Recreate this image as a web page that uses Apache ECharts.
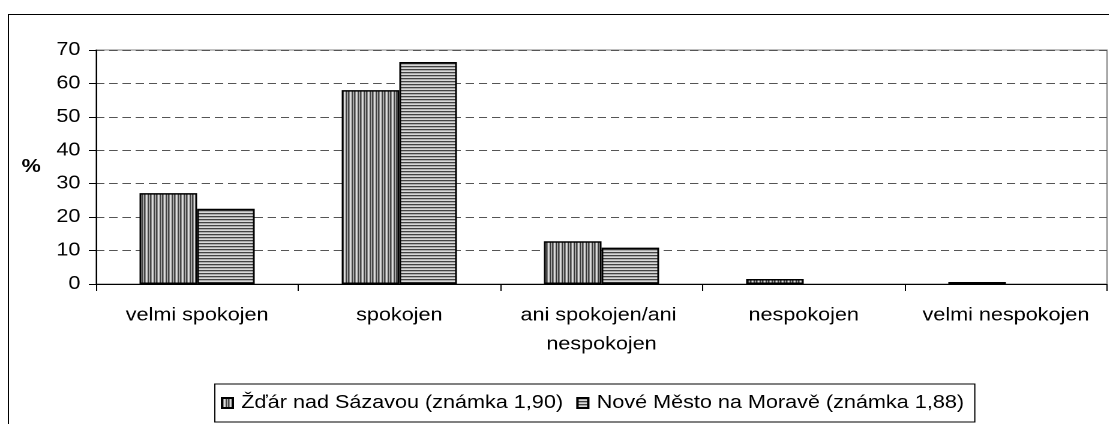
<!DOCTYPE html>
<html>
<head>
<meta charset="utf-8">
<script src="https://cdn.jsdelivr.net/npm/echarts@6/dist/echarts.min.js"></script>
<style>
html,body{margin:0;padding:0;background:#fff;overflow:hidden;}
#c{width:924px;height:424px;transform:scaleX(1.2);transform-origin:0 0;}
</style>
</head>
<body>
<div id="c"></div>
<script>
const categories = ['velmi spokojen', 'spokojen', 'ani spokojen/ani nespokojen', 'nespokojen', 'velmi nespokojen'];
const seriesNames = ['Žďár nad Sázavou (známka 1,90)', 'Nové Město na Moravě (známka 1,88)'];
const zdarValues = [27.2, 58.0, 12.8, 1.5, 0.6];
const nmnmValues = [22.5, 66.4, 10.9, 0, 0];
const yTicks = { min: 0, max: 70, interval: 10 };

function stripePattern(vertical) {
  const n = vertical ? 5 : 3;
  const cols = vertical ? ['#111111', '#b0b0b0', '#ffffff', '#111111', '#d8d8d8']
                        : ['#111111', '#b8b8b8', '#ffffff'];
  const c = document.createElement('canvas');
  c.width = n; c.height = n;
  const g = c.getContext('2d');
  for (let i = 0; i < n; i++) {
    g.fillStyle = cols[i];
    if (vertical) g.fillRect(i, 0, 1, n); else g.fillRect(0, i, n, 1);
  }
  return { image: c, repeat: 'repeat' };
}

// zero values draw no visible mark (as in the source chart)
function barData(values) {
  return values.map(v => v === 0 ? { value: v, itemStyle: { borderWidth: 0, opacity: 0 } } : v);
}

const chart = echarts.init(document.getElementById('c'), null, { renderer: 'canvas', devicePixelRatio: 2 });
const font = 'Liberation Sans, Arial, sans-serif';
chart.setOption({
  animation: false,
  textStyle: { fontFamily: font },
  graphic: [{
    type: 'rect', silent: true, z: -10,
    shape: { x: 7, y: 14.5, width: 1000, height: 420 },
    style: { fill: 'none', stroke: '#000', lineWidth: 1 }
  }],
  grid: {
    left: 80, right: 1.5, top: 50, bottom: 140,
    show: true, borderColor: '#808080', borderWidth: 1, backgroundColor: 'transparent'
  },
  legend: {
    left: 179, top: 384,
    orient: 'horizontal',
    icon: 'rect',
    itemWidth: 9, itemHeight: 10, itemGap: 11,
    padding: [10, 9, 10, 5],
    borderColor: '#000', borderWidth: 1,
    textStyle: { fontFamily: font, fontSize: 18, color: '#000', padding: [0, 0, 0, 2] },
    data: seriesNames
  },
  xAxis: {
    type: 'category',
    data: categories,
    axisLine: { lineStyle: { color: '#000', width: 1 } },
    axisTick: { show: true, length: 7, lineStyle: { color: '#000' } },
    axisLabel: {
      interval: 0, margin: 17, fontSize: 18, color: '#000', fontFamily: font,
      width: 160, overflow: 'break', lineHeight: 29, align: 'center'
    }
  },
  yAxis: {
    type: 'value',
    min: yTicks.min, max: yTicks.max, interval: yTicks.interval,
    name: '%', nameLocation: 'middle', nameRotate: 0, nameGap: 46,
    nameTextStyle: { fontSize: 18, fontWeight: 'bold', color: '#000', fontFamily: font },
    axisLine: { show: true, lineStyle: { color: '#000', width: 1 } },
    axisTick: { show: true, length: 6, lineStyle: { color: '#000' } },
    axisLabel: { margin: 13, fontSize: 18, color: '#000', fontFamily: font },
    splitLine: { show: true, lineStyle: { color: '#555', type: [7, 4], width: 1 } }
  },
  series: [
    {
      name: seriesNames[0], type: 'bar', data: barData(zdarValues),
      barWidth: 48, barGap: '0%',
      itemStyle: { color: stripePattern(true), borderColor: '#000', borderWidth: 1.5 }
    },
    {
      name: seriesNames[1], type: 'bar', data: barData(nmnmValues),
      barWidth: 48, barGap: '0%',
      itemStyle: { color: stripePattern(false), borderColor: '#000', borderWidth: 1.5 }
    }
  ]
});
</script>
</body>
</html>
